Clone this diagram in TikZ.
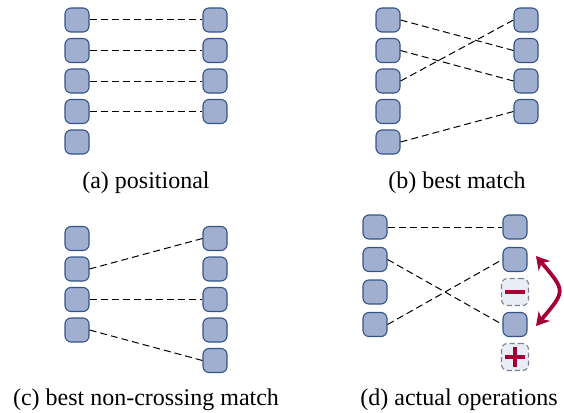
\documentclass[tikz,border=0pt]{standalone}
\usepackage{fontspec}
\setmainfont{Liberation Serif}
\usetikzlibrary{arrows.meta,bending}
\definecolor{boxfill}{RGB}{160,174,208}
\definecolor{boxline}{RGB}{52,84,136}
\definecolor{ghostfill}{RGB}{233,237,245}
\definecolor{ghostline}{RGB}{120,130,148}
\definecolor{opred}{RGB}{165,0,52}
\tikzset{
    elem/.style={rectangle, rounded corners=6pt, draw=boxline, fill=boxfill,
    	line width=1.1pt, minimum size=24pt, inner sep=0pt}
}
\tikzset{
    ghost/.style={elem, draw=ghostline, fill=ghostfill,
    	dash pattern=on 5pt off 3pt, minimum size=27pt}
}
\tikzset{
    every edge/.append style={dash pattern=on 7pt off 4pt, line width=1pt}
}
\tikzset{
	caption/.style={font=\fontsize{24}{29}\selectfont, inner sep=0pt},
	sign/.style={draw=opred, line width=4pt},
	swaparrow/.style={draw=opred, line width=3.8pt,
		{Stealth[length=13pt,width=15pt,inset=4pt]}-{Stealth[length=13pt,width=15pt,inset=4pt]}}
}

\begin{document}
\begin{tikzpicture}[x=1pt,y=-1pt]
	\useasboundingbox (0,0) rectangle (564,412);

	% (a)
	\node[elem] (a-l1) at (77,20) {};
	\node[elem] (a-l2) at (77,50.5) {};
	\node[elem] (a-l3) at (77,81) {};
	\node[elem] (a-l4) at (77,111.5) {};
	\node[elem] (a-l5) at (77,142) {};
	\node[elem] (a-r1) at (215,20) {};
	\node[elem] (a-r2) at (215,50.5) {};
	\node[elem] (a-r3) at (215,81) {};
	\node[elem] (a-r4) at (215,111.5) {};
	\draw (a-l1.east) edge (a-r1.west); \draw (a-l2.east) edge (a-r2.west);
	\draw (a-l3.east) edge (a-r3.west); \draw (a-l4.east) edge (a-r4.west);
	\node[caption] (a-cap) at (146,183) {(a) positional};

	% (b)
	\node[elem] (b-l1) at (388,20) {};
	\node[elem] (b-l2) at (388,50.5) {};
	\node[elem] (b-l3) at (388,81) {};
	\node[elem] (b-l4) at (388,111.5) {};
	\node[elem] (b-l5) at (388,142) {};
	\node[elem] (b-r1) at (526,20) {};
	\node[elem] (b-r2) at (526,50.5) {};
	\node[elem] (b-r3) at (526,81) {};
	\node[elem] (b-r4) at (526,111.5) {};
	\draw (b-l1.east) edge (b-r2.west); \draw (b-l2.east) edge (b-r3.west);
	\draw (b-l3.east) edge (b-r1.west); \draw (b-l5.east) edge (b-r4.west);
	\node[caption] (b-cap) at (457,183) {(b) best match};

	% (c)
	\node[elem] (c-l1) at (77,238.5) {};
	\node[elem] (c-l2) at (77,269) {};
	\node[elem] (c-l3) at (77,299.5) {};
	\node[elem] (c-l4) at (77,330) {};
	\node[elem] (c-r1) at (215,238.5) {};
	\node[elem] (c-r2) at (215,269) {};
	\node[elem] (c-r3) at (215,299.5) {};
	\node[elem] (c-r4) at (215,330) {};
	\node[elem] (c-r5) at (215,360.5) {};
	\draw (c-l2.east) edge (c-r1.west); \draw (c-l3.east) edge (c-r3.west);
	\draw (c-l4.east) edge (c-r5.west);
	\node[caption] (c-cap) at (146,400) {(c) best non-crossing match};

	% (d)
	\node[elem] (d-l1) at (375,227) {};
	\node[elem] (d-l2) at (375,259.5) {};
	\node[elem] (d-l3) at (375,292) {};
	\node[elem] (d-l4) at (375,324.5) {};
	\node[elem] (d-r1) at (515,227) {};
	\node[elem] (d-r2) at (515,259.5) {};
	\node[ghost] (d-del) at (515,292) {};
	\node[elem] (d-r4) at (515,324.5) {};
	\node[ghost] (d-ins) at (515,357) {};
	\draw (d-l1.east) edge (d-r1.west); \draw (d-l2.east) edge (d-r4.west);
	\draw (d-l4.east) edge (d-r2.west);
	\draw[sign] ([xshift=-10pt]d-del.center) -- ([xshift=10pt]d-del.center);
	\draw[sign] ([xshift=-10pt]d-ins.center) -- ([xshift=10pt]d-ins.center);
	\draw[sign] ([yshift=-10pt]d-ins.center) -- ([yshift=10pt]d-ins.center);
	\coordinate (swap-top) at (536,256);
	\coordinate (swap-bot) at (536,326);
	\draw[swaparrow] (swap-top) to[out=-50,in=50,looseness=1.8] (swap-bot);
	\node[caption] (d-cap) at (459,400) {(d) actual operations};
\end{tikzpicture}
\end{document}
